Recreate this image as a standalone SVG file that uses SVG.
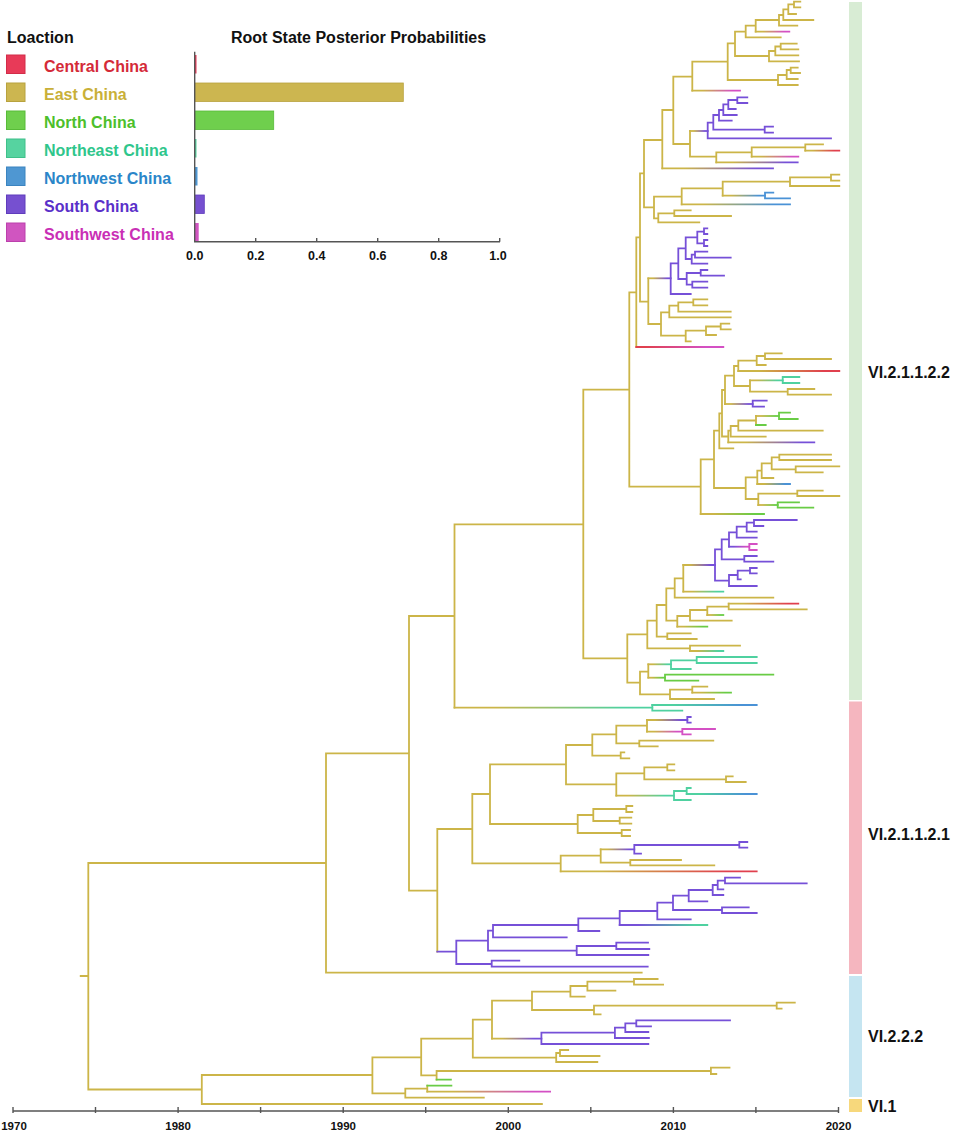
<svg xmlns="http://www.w3.org/2000/svg" width="957" height="1132" viewBox="0 0 957 1132">
<style>
.t{font-family:"Liberation Sans",Arial,sans-serif;font-weight:bold}
.br{fill:none;stroke-width:1.8;stroke-linecap:square}
.Y{stroke:#ccb548}.P{stroke:#7650d8}.K{stroke:#d450c4}.G{stroke:#69cc45}.T{stroke:#4fd1a0}.B{stroke:#4a92d6}
.ax{stroke:#555;stroke-width:1.4;fill:none}
.sq{stroke-width:1}
</style>
<defs>
<linearGradient id="YP" gradientUnits="userSpaceOnUse"><stop offset="0.2" stop-color="#ccb548"/><stop offset="0.85" stop-color="#7650d8"/></linearGradient>
<linearGradient id="YK" gradientUnits="userSpaceOnUse"><stop offset="0.2" stop-color="#ccb548"/><stop offset="0.85" stop-color="#d450c4"/></linearGradient>
<linearGradient id="YR" gradientUnits="userSpaceOnUse"><stop offset="0.2" stop-color="#ccb548"/><stop offset="0.85" stop-color="#e0404e"/></linearGradient>
<linearGradient id="YB" gradientUnits="userSpaceOnUse"><stop offset="0.2" stop-color="#ccb548"/><stop offset="0.85" stop-color="#4a92d6"/></linearGradient>
<linearGradient id="YG" gradientUnits="userSpaceOnUse"><stop offset="0.2" stop-color="#ccb548"/><stop offset="0.85" stop-color="#69cc45"/></linearGradient>
<linearGradient id="YT" gradientUnits="userSpaceOnUse"><stop offset="0.2" stop-color="#ccb548"/><stop offset="0.85" stop-color="#4fd1a0"/></linearGradient>
<linearGradient id="RK" gradientUnits="userSpaceOnUse"><stop offset="0.1" stop-color="#e0404e"/><stop offset="0.8" stop-color="#d450c4"/></linearGradient>
<linearGradient id="PK" gradientUnits="userSpaceOnUse"><stop offset="0.2" stop-color="#7650d8"/><stop offset="0.85" stop-color="#d450c4"/></linearGradient>
<linearGradient id="TB" gradientUnits="userSpaceOnUse"><stop offset="0.2" stop-color="#4fd1a0"/><stop offset="0.85" stop-color="#4a92d6"/></linearGradient>
<linearGradient id="PT" gradientUnits="userSpaceOnUse"><stop offset="0.2" stop-color="#7650d8"/><stop offset="0.85" stop-color="#4fd1a0"/></linearGradient>
<linearGradient id="g1" href="#RK" x1="636.3" x2="723.3" y1="0" y2="0"/>
<linearGradient id="g2" href="#YP" x1="662.3" x2="773" y1="0" y2="0"/>
<linearGradient id="g3" href="#YK" x1="692.3" x2="740" y1="0" y2="0"/>
<linearGradient id="g4" href="#YK" x1="755.7" x2="789.3" y1="0" y2="0"/>
<linearGradient id="g5" href="#YP" x1="690" x2="707.7" y1="0" y2="0"/>
<linearGradient id="g6" href="#YP" x1="716.3" x2="797.7" y1="0" y2="0"/>
<linearGradient id="g7" href="#YK" x1="751.7" x2="798.3" y1="0" y2="0"/>
<linearGradient id="g8" href="#YR" x1="805.3" x2="839.3" y1="0" y2="0"/>
<linearGradient id="g9" href="#YB" x1="681.7" x2="790" y1="0" y2="0"/>
<linearGradient id="g10" href="#YB" x1="722.7" x2="765" y1="0" y2="0"/>
<linearGradient id="g11" href="#YP" x1="648.3" x2="670.7" y1="0" y2="0"/>
<linearGradient id="g12" href="#YG" x1="700.7" x2="764" y1="0" y2="0"/>
<linearGradient id="g13" href="#YR" x1="738.3" x2="839.3" y1="0" y2="0"/>
<linearGradient id="g14" href="#YT" x1="750" x2="782.7" y1="0" y2="0"/>
<linearGradient id="g15" href="#YP" x1="725" x2="752.7" y1="0" y2="0"/>
<linearGradient id="g16" href="#YP" x1="728.3" x2="814.3" y1="0" y2="0"/>
<linearGradient id="g17" href="#YG" x1="756" x2="779" y1="0" y2="0"/>
<linearGradient id="g18" href="#YB" x1="757.3" x2="790" y1="0" y2="0"/>
<linearGradient id="g19" href="#YG" x1="758.3" x2="777.7" y1="0" y2="0"/>
<linearGradient id="g20" href="#YT" x1="454.5" x2="652.3" y1="0" y2="0"/>
<linearGradient id="g21" href="#TB" x1="652.3" x2="756.7" y1="0" y2="0"/>
<linearGradient id="g22" href="#YP" x1="683.3" x2="715" y1="0" y2="0"/>
<linearGradient id="g23" href="#YT" x1="683.3" x2="723.3" y1="0" y2="0"/>
<linearGradient id="g24" href="#PK" x1="729" x2="749.3" y1="0" y2="0"/>
<linearGradient id="g25" href="#YG" x1="677.3" x2="707.3" y1="0" y2="0"/>
<linearGradient id="g26" href="#YR" x1="728.7" x2="798.3" y1="0" y2="0"/>
<linearGradient id="g27" href="#YG" x1="707.3" x2="723.3" y1="0" y2="0"/>
<linearGradient id="g28" href="#YT" x1="690" x2="723.3" y1="0" y2="0"/>
<linearGradient id="g29" href="#YT" x1="648.3" x2="671" y1="0" y2="0"/>
<linearGradient id="g30" href="#YG" x1="648.3" x2="665" y1="0" y2="0"/>
<linearGradient id="g31" href="#YG" x1="692.3" x2="731" y1="0" y2="0"/>
<linearGradient id="g32" href="#YP" x1="647" x2="687.3" y1="0" y2="0"/>
<linearGradient id="g33" href="#YK" x1="647" x2="682.3" y1="0" y2="0"/>
<linearGradient id="g34" href="#YT" x1="616.3" x2="674" y1="0" y2="0"/>
<linearGradient id="g35" href="#TB" x1="686.7" x2="756.7" y1="0" y2="0"/>
<linearGradient id="g36" href="#YR" x1="560.7" x2="756.7" y1="0" y2="0"/>
<linearGradient id="g37" href="#YP" x1="600.7" x2="634.3" y1="0" y2="0"/>
<linearGradient id="g38" href="#PT" x1="619.7" x2="707.3" y1="0" y2="0"/>
<linearGradient id="g39" href="#YP" x1="492" x2="541.4" y1="0" y2="0"/>
<linearGradient id="g40" href="#YK" x1="427.3" x2="550.1" y1="0" y2="0"/>
</defs>
<rect width="957" height="1132" fill="#fff"/>

<g id="legend">
<text class="t" x="7" y="43" font-size="16" fill="#111">Loaction</text>
<g id="leg-central"><rect class="sq" x="6.5" y="55" width="18.5" height="18.5" fill="#e83a58" stroke="#d22c48"/><text class="t" x="44" y="71.7" font-size="16" fill="#d42a38">Central China</text></g>
<g id="leg-east"><rect class="sq" x="6.5" y="83" width="18.5" height="18.5" fill="#ccb650" stroke="#b8a23e"/><text class="t" x="44" y="99.7" font-size="16" fill="#c9b038">East China</text></g>
<g id="leg-north"><rect class="sq" x="6.5" y="111" width="18.5" height="18.5" fill="#6fcf4d" stroke="#58bb38"/><text class="t" x="44" y="127.7" font-size="16" fill="#4dbf2b">North China</text></g>
<g id="leg-northeast"><rect class="sq" x="6.5" y="139" width="18.5" height="18.5" fill="#56d3a0" stroke="#3fc08a"/><text class="t" x="44" y="155.7" font-size="16" fill="#2fc68c">Northeast China</text></g>
<g id="leg-northwest"><rect class="sq" x="6.5" y="167" width="18.5" height="18.5" fill="#4f97d2" stroke="#3b84c0"/><text class="t" x="44" y="183.7" font-size="16" fill="#2a86c9">Northwest China</text></g>
<g id="leg-south"><rect class="sq" x="6.5" y="195" width="18.5" height="18.5" fill="#7650d0" stroke="#5f3cbc"/><text class="t" x="44" y="211.7" font-size="16" fill="#5a30c9">South China</text></g>
<g id="leg-southwest"><rect class="sq" x="6.5" y="223" width="18.5" height="18.5" fill="#d055c0" stroke="#bc40ac"/><text class="t" x="44" y="239.7" font-size="16" fill="#c92fb5">Southwest China</text></g>
</g>

<g id="root-chart">
<text class="t" x="231" y="43" font-size="16" fill="#111">Root State Posterior Probabilities</text>
<rect x="194.7" y="55" width="1.8" height="18.5" fill="#e83a58"/>
<rect x="194.7" y="83" width="208.6" height="18.5" fill="#ccb650" stroke="#b8a23e" stroke-width="0.8"/>
<rect x="194.7" y="111" width="79" height="18.5" fill="#6fcf4d" stroke="#58bb38" stroke-width="0.8"/>
<rect x="194.7" y="139" width="1.8" height="18.5" fill="#56d3a0"/>
<rect x="194.7" y="167" width="2.8" height="18.5" fill="#4f97d2"/>
<rect x="194.7" y="195" width="9.6" height="18.5" fill="#7650d0" stroke="#5f3cbc" stroke-width="0.8"/>
<rect x="194.7" y="223" width="4" height="18.5" fill="#d055c0"/>
<path class="ax" d="M194.7 51.7V241.7H500M255.7 241.7V238M316.7 241.7V238M377.7 241.7V238M438.7 241.7V238M499.7 241.7V238"/>
<g class="t" font-size="12.5" fill="#111" text-anchor="middle">
<text x="194.7" y="259.5">0.0</text><text x="255.7" y="259.5">0.2</text><text x="316.7" y="259.5">0.4</text><text x="377.7" y="259.5">0.6</text><text x="438.7" y="259.5">0.8</text><text x="498" y="259.5">1.0</text>
</g>
</g>

<g id="clades">
<g id="clade-VI.2.1.1.2.2"><rect x="849" y="2" width="13" height="698" fill="#d8ecd4"/><text class="t" x="868" y="378" font-size="16" fill="#111">VI.2.1.1.2.2</text></g>
<g id="clade-VI.2.1.1.2.1"><rect x="849" y="701.5" width="13" height="272.5" fill="#f5b6bf"/><text class="t" x="868" y="839.5" font-size="16" fill="#111">VI.2.1.1.2.1</text></g>
<g id="clade-VI.2.2.2"><rect x="849" y="976" width="13" height="121" fill="#c5e5f1"/><text class="t" x="868" y="1042" font-size="16" fill="#111">VI.2.2.2</text></g>
<g id="clade-VI.1"><rect x="849" y="1099" width="13" height="13" fill="#f7d87c"/><text class="t" x="868" y="1112" font-size="16" fill="#111">VI.1</text></g>
</g>

<g id="axis">
<path class="ax" d="M13 1111H839M13 1107V1113M95.5 1107V1113M178.1 1107V1113M260.6 1107V1113M343.2 1107V1113M425.7 1107V1113M508.3 1107V1113M590.8 1107V1113M673.4 1107V1113M755.9 1107V1113M838.5 1107V1113"/>
<g class="t" font-size="11.5" fill="#111" text-anchor="middle">
<text x="14" y="1130">1970</text><text x="178.1" y="1130">1980</text><text x="343.2" y="1130">1990</text><text x="508.3" y="1130">2000</text><text x="673.4" y="1130">2010</text><text x="838.5" y="1130">2020</text>
</g>
</g>

<g id="connectors">
<path class="br Y" d="M80.7 976H88.3M88.3 863V1089.5M88.3 863H326M88.3 1089.5H201.8M326 753.3V972.7M326 753.3H409M326 972.7H641.7M409 616V890.7M409 616H454.5M409 890.7H437.3M454.5 524.3V707.7M454.5 524.3H583.3M583.3 389.7V658.3M583.3 389.7H629.3M583.3 658.3H627.3M629.3 292.3V486.7M629.3 292.3H636.3M629.3 486.7H700.7M636.3 237.3V347M636.3 237.3H640M640 173.3V301.7M640 173.3H644M640 301.7H648.3M644 140V207.3M644 140H662.3M644 207.3H654M662.3 110V168.3M662.3 110H673.3M673.3 76.7V144M673.3 76.7H692.3M673.3 144H690M692.3 61.7V90.7M692.3 61.7H727.7M727.7 43.3V80M727.7 43.3H735M727.7 80H778M735 31.7V56M735 31.7H745.7M735 56H769M745.7 25.7V37.3M745.7 25.7H755.7M745.7 37.3H780.7M755.7 20V31.7M755.7 20H779M779 15V25.7M779 15H783.3M779 25.7H797.3M783.3 9.3V20M783.3 9.3H788.3M783.3 20H813.3M788.3 4.3V14M788.3 4.3H794M788.3 14H796M794 1.7V7.3M794 1.7H800.3M794 7.3H800.3M769 51V61.3M769 51H775.3M769 61.3H799M775.3 46.5V55.3M775.3 46.5H780.7M775.3 55.3H798.3M780.7 43.7V49.3M780.7 43.7H796.7M780.7 49.3H798.3M778 75V85M778 75H786.7M778 85H797.7M786.7 70V79M786.7 70H790.7M786.7 79H797.7M790.7 67.7V73M790.7 67.7H797.7M790.7 73H800M690 131V156.7M690 156.7H716.3M716.3 152.3V162.3M716.3 152.3H751.7M751.7 147.3V156.7M751.7 147.3H805.3M805.3 144.3V150.7M805.3 144.3H823M654 196.7V218.3M654 196.7H681.7M654 218.3H658.3M681.7 188.3V204.3M681.7 188.3H722.7M722.7 181.7V195.7M722.7 181.7H790M790 177.3V186M790 177.3H831M790 186H839.3M831 174.7V180.7M831 174.7H839.3M831 180.7H839.3M658.3 213.3V222.3M658.3 213.3H674.3M658.3 222.3H699.3M674.3 210.3V216M674.3 210.3H690.7M674.3 216H731M648.3 278.3V324M648.3 324H661M661 312.3V335.7M661 312.3H669.3M661 335.7H685.7M669.3 305.7V317.3M669.3 305.7H678.3M669.3 317.3H730.7M678.3 302.3V311.7M678.3 302.3H693.3M678.3 311.7H730.7M693.3 299.3V305.3M693.3 299.3H707.3M693.3 305.3H707.3M685.7 330.7V341.3M685.7 330.7H706M685.7 341.3H690.7M706 326.5V335M706 326.5H720.7M706 335H716M720.7 323.7V329.3M720.7 323.7H729.3M720.7 329.3H730.7M700.7 459.3V514M700.7 459.3H714M714 430.7V488M714 430.7H719.3M714 488H745.7M719.3 413.3V448.3M719.3 413.3H722M719.3 448.3H733.3M722 390V436.5M722 390H725M722 436.5H728.3M725 375.7V404M725 375.7H734M734 366V386M734 366H738.3M734 386H750M738.3 360.7V371M738.3 360.7H756.7M756.7 356V365M756.7 356H765M756.7 365H765.7M765 353.3V359M765 353.3H781.7M765 359H831M750 380.3V391.7M750 391.7H787.7M787.7 389V394.7M787.7 389H814.3M787.7 394.7H831M728.3 430.7V442.3M728.3 430.7H730.7M730.7 426V436.7M730.7 426H738.3M730.7 436.7H765.7M738.3 420.5V430.7M738.3 420.5H756M738.3 430.7H822.7M756 416V425M745.7 477.3V499M745.7 477.3H757.3M745.7 499H758.3M757.3 470.7V484M757.3 470.7H761.7M761.7 463.3V478M761.7 463.3H771.7M761.7 478H773.3M771.7 457.3V469.3M771.7 457.3H779.3M771.7 469.3H795.7M779.3 454.7V460M779.3 454.7H831M779.3 460H831M795.7 466.3V472.3M795.7 466.3H839.3M795.7 472.3H822.7M758.3 493.7V505M758.3 493.7H797.3M797.3 490.7V496M797.3 490.7H822.7M797.3 496H839.3M627.3 634.3V682.7M627.3 634.3H647.3M627.3 682.7H640M647.3 620.7V648.3M647.3 620.7H656.7M647.3 648.3H690M656.7 605V636.7M656.7 605H666.3M656.7 636.7H667.3M666.3 588.3V620.7M666.3 588.3H674.7M666.3 620.7H677.3M674.7 578.3V597.7M674.7 578.3H683.3M674.7 597.7H773.3M683.3 565V591.7M667.3 633.3V639M667.3 633.3H690.7M667.3 639H696.7M677.3 616V626.7M677.3 616H690M690 610V620.7M690 610H707.3M690 620.7H731.7M707.3 606.7V615M707.3 606.7H728.7M728.7 603.7V609.3M728.7 609.3H806.7M690 645.7V651M690 645.7H740M640 671.7V694.3M640 671.7H648.3M640 694.3H670M648.3 664.3V677.7M670 689.7V699M670 689.7H692.3M670 699H714M692.3 686.7V692.7M692.3 686.7H707.3M437.3 829V951.7M437.3 829H472.3M472.3 794V863.3M472.3 794H490M472.3 863.3H560.7M490 764.3V824M490 764.3H566M490 824H577.7M566 745V784.3M566 745H592.3M566 784.3H616.3M592.3 734.3V755.7M592.3 734.3H616.3M592.3 755.7H620.7M616.3 725.7V743.3M616.3 725.7H647M616.3 743.3H639.3M647 720V731.7M639.3 740.7V746.3M639.3 740.7H713.3M639.3 746.3H657.7M620.7 752.3V758.3M620.7 752.3H624.3M620.7 758.3H629.3M616.3 773.3V795.7M616.3 773.3H644.3M644.3 767.3V779.3M644.3 767.3H667.3M644.3 779.3H726M667.3 764.3V770.3M667.3 764.3H674.3M667.3 770.3H674.3M726 776.3V782M726 776.3H732.7M726 782H745.7M577.7 815V833M577.7 815H593.3M577.7 833H621.7M593.3 809V821M593.3 809H626.3M593.3 821H619.7M626.3 806V812M626.3 806H632.3M626.3 812H632.3M619.7 817.7V823.7M619.7 817.7H631.3M619.7 823.7H631.3M621.7 830V836M621.7 830H630M621.7 836H630M560.7 855.7V871.3M560.7 855.7H600.7M600.7 849.3V862.7M600.7 862.7H630.3M630.3 860V865.3M630.3 860H681M630.3 865.3H714.3M201.8 1075V1104M201.8 1075H372.4M201.8 1104H541.9M372.4 1057.3V1093.3M372.4 1057.3H421.2M372.4 1093.3H405.3M421.2 1038.7V1075.3M421.2 1038.7H472.8M421.2 1075.3H436.6M472.8 1019.7V1057.7M472.8 1019.7H492M472.8 1057.7H556.2M492 1000.7V1038.7M492 1000.7H532M532 991.7V1010M532 991.7H570.4M532 1010H594M570.4 986V996.7M570.4 986H587.4M570.4 996.7H584.7M587.4 981.7V990.7M587.4 981.7H634M587.4 990.7H615.4M634 979V984.7M634 979H657.6M634 984.7H663.1M594 1005.7V1014.3M594 1005.7H776.7M594 1014.3H600.6M776.7 1002.7V1008.7M776.7 1002.7H794.8M776.7 1008.7H781.6M556.2 1053V1062M556.2 1053H560M556.2 1062H597.3M560 1050V1056M560 1050H568.2M560 1056H599.5M436.6 1071V1079.7M436.6 1071H710.9M710.9 1067.7V1074M710.9 1067.7H729.5M710.9 1074H716.3M405.3 1088.7V1097.7M405.3 1088.7H427.3M405.3 1097.7H483.8M427.3 1085.7V1091.7"/>
<path class="br P" d="M707.7 122.7V138.3M707.7 122.7H713.3M707.7 138.3H831M713.3 115V129.7M713.3 115H719M713.3 129.7H764.7M719 110V120.7M719 110H723.3M719 120.7H731.7M723.3 104.3V115M723.3 104.3H728.3M723.3 115H736.7M728.3 100V109M728.3 100H737.3M728.3 109H735.7M737.3 97.3V103M737.3 97.3H747.3M737.3 103H747.3M764.7 126.7V132.7M764.7 126.7H773M764.7 132.7H773M670.7 263.3V294M670.7 263.3H678.3M670.7 294H690.7M678.3 248.3V279M678.3 248.3H685.7M678.3 279H686.7M685.7 237.3V259M685.7 237.3H697.3M685.7 259H691.7M697.3 231.7V243.3M697.3 231.7H704M697.3 243.3H704M704 228.3V234M704 228.3H707.3M704 234H707.3M704 240V246M704 240H707.3M704 246H707.3M691.7 254.7V263.7M691.7 254.7H695M691.7 263.7H707.3M695 251.7V257.7M695 251.7H707.3M695 257.7H730.7M686.7 273V284.7M686.7 273H700.7M686.7 284.7H692.3M700.7 270V275.7M700.7 270H707.3M700.7 275.7H724M692.3 281.7V287.7M692.3 281.7H707.3M692.3 287.7H707.3M752.7 400.7V406.7M752.7 400.7H766.7M752.7 406.7H764M715 549.3V580.7M715 549.3H721.7M715 580.7H729M721.7 539.3V559.3M721.7 539.3H729M721.7 559.3H744.3M729 532.3V546.7M729 532.3H736.7M736.7 526.7V537.7M736.7 526.7H746.7M736.7 537.7H756.7M746.7 522.7V531.7M746.7 522.7H754M746.7 531.7H756.7M754 520V526M754 520H796.7M754 526H763.3M744.3 556V561.7M744.3 556H756.7M744.3 561.7H773.3M729 575V586M729 575H737.7M729 586H756.7M737.7 570.7V579.3M737.7 570.7H750M737.7 579.3H740.7M750 568V573.3M750 568H756.7M750 573.3H756.7M687.3 717V722.7M687.3 717H690.7M687.3 722.7H690.7M634.3 845V853.7M634.3 845H739.3M634.3 853.7H641M739.3 842V847.7M739.3 842H747.3M739.3 847.7H747.3M437.3 951.7H456.3M456.3 940.7V964M456.3 940.7H488M456.3 964H491.7M488 930.7V950.7M488 930.7H493M488 950.7H576.7M493 925V937.3M493 925H578.3M493 937.3H566.7M578.3 918.3V931M578.3 918.3H619.7M578.3 931H599.3M619.7 911V925M619.7 911H657.3M657.3 902.7V919.3M657.3 902.7H673M657.3 919.3H690.7M673 895.7V910M673 895.7H688.7M673 910H722M688.7 890V901.3M688.7 890H712.7M688.7 901.3H707.3M712.7 885V895M712.7 885H717.7M712.7 895H723.3M717.7 880.7V889.3M717.7 880.7H725M717.7 889.3H723.3M725 877.7V883.3M725 877.7H740M725 883.3H806.7M722 907.3V913M722 907.3H748.7M722 913H756.7M576.7 946V955M576.7 946H616.3M576.7 955H648.3M616.3 942.7V949M616.3 942.7H648M616.3 949H649.3M491.7 960.7V966.7M491.7 960.7H519.3M491.7 966.7H647.7M541.4 1032.7V1044M541.4 1032.7H614.9M541.4 1044H648.3M614.9 1027.7V1038M614.9 1027.7H625.3M614.9 1038H648.9M625.3 1023.3V1032M625.3 1023.3H636.3M625.3 1032H648.3M636.3 1020.3V1026.3M636.3 1020.3H730M636.3 1026.3H651"/>
<path class="br K" d="M749.3 544V550M749.3 544H756.7M749.3 550H756.7M682.3 729V734.3M682.3 729H715M682.3 734.3H690.7"/>
<path class="br G" d="M779 412.7V419M779 412.7H790M779 419H797.7M777.7 502.3V507.7M777.7 502.3H799M777.7 507.7H813.3M665 674.7V680.7M665 674.7H773.3M665 680.7H698.3M436.6 1079.7H450.9M427.3 1085.7H451.4M756 425H765.7"/>
<path class="br T" d="M782.7 377V383M782.7 377H799.3M782.7 383H799.3M652.3 705V710.7M652.3 710.7H682.3M671 660.3V669M671 660.3H696.7M671 669H690.7M696.7 657V663M696.7 657H756.7M696.7 663H756.7M674 791V800M674 791H686.7M674 800H690.7M686.7 788V794M686.7 788H690.7"/>
<path class="br B" d="M765 192.7V198.3M765 192.7H773.3M765 198.3H790"/>
<path class="br" stroke="url(#g1)" d="M636.3 347H723.3"/>
<path class="br" stroke="url(#g2)" d="M662.3 168.3H773"/>
<path class="br" stroke="url(#g3)" d="M692.3 90.7H740"/>
<path class="br" stroke="url(#g4)" d="M755.7 31.7H789.3"/>
<path class="br" stroke="url(#g5)" d="M690 131H707.7"/>
<path class="br" stroke="url(#g6)" d="M716.3 162.3H797.7"/>
<path class="br" stroke="url(#g7)" d="M751.7 156.7H798.3"/>
<path class="br" stroke="url(#g8)" d="M805.3 150.7H839.3"/>
<path class="br" stroke="url(#g9)" d="M681.7 204.3H790"/>
<path class="br" stroke="url(#g10)" d="M722.7 195.7H765"/>
<path class="br" stroke="url(#g11)" d="M648.3 278.3H670.7"/>
<path class="br" stroke="url(#g12)" d="M700.7 514H764"/>
<path class="br" stroke="url(#g13)" d="M738.3 371H839.3"/>
<path class="br" stroke="url(#g14)" d="M750 380.3H782.7"/>
<path class="br" stroke="url(#g15)" d="M725 404H752.7"/>
<path class="br" stroke="url(#g16)" d="M728.3 442.3H814.3"/>
<path class="br" stroke="url(#g17)" d="M756 416H779"/>
<path class="br" stroke="url(#g18)" d="M757.3 484H790"/>
<path class="br" stroke="url(#g19)" d="M758.3 505H777.7"/>
<path class="br" stroke="url(#g20)" d="M454.5 707.7H652.3"/>
<path class="br" stroke="url(#g21)" d="M652.3 705H756.7"/>
<path class="br" stroke="url(#g22)" d="M683.3 565H715"/>
<path class="br" stroke="url(#g23)" d="M683.3 591.7H723.3"/>
<path class="br" stroke="url(#g24)" d="M729 546.7H749.3"/>
<path class="br" stroke="url(#g25)" d="M677.3 626.7H707.3"/>
<path class="br" stroke="url(#g26)" d="M728.7 603.7H798.3"/>
<path class="br" stroke="url(#g27)" d="M707.3 615H723.3"/>
<path class="br" stroke="url(#g28)" d="M690 651H723.3"/>
<path class="br" stroke="url(#g29)" d="M648.3 664.3H671"/>
<path class="br" stroke="url(#g30)" d="M648.3 677.7H665"/>
<path class="br" stroke="url(#g31)" d="M692.3 692.7H731"/>
<path class="br" stroke="url(#g32)" d="M647 720H687.3"/>
<path class="br" stroke="url(#g33)" d="M647 731.7H682.3"/>
<path class="br" stroke="url(#g34)" d="M616.3 795.7H674"/>
<path class="br" stroke="url(#g35)" d="M686.7 794H756.7"/>
<path class="br" stroke="url(#g36)" d="M560.7 871.3H756.7"/>
<path class="br" stroke="url(#g37)" d="M600.7 849.3H634.3"/>
<path class="br" stroke="url(#g38)" d="M619.7 925H707.3"/>
<path class="br" stroke="url(#g39)" d="M492 1038.7H541.4"/>
<path class="br" stroke="url(#g40)" d="M427.3 1091.7H550.1"/>
</g>
</svg>
